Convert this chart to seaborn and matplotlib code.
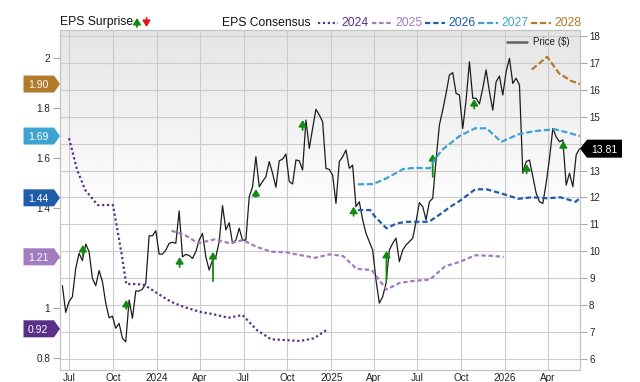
import numpy as np
import pandas as pd
import seaborn as sns
import matplotlib.pyplot as plt
import matplotlib.dates as mdates
import matplotlib.transforms as mtransforms
from matplotlib.lines import Line2D
from matplotlib.patches import Polygon
from matplotlib.ticker import MultipleLocator, FuncFormatter

# weekly closing price ($), first week 2023-06-17
price_start = "2023-06-17"
price = [
    8.73, 7.74, 8.14, 8.32, 9.37, 9.93, 9.66, 10.27, 9.99, 9.0,
    8.73, 9.29, 8.88, 8.08, 7.54, 7.6, 7.15, 7.33, 6.78, 6.65,
    8.2, 7.52, 8.53, 8.53, 8.6, 8.82, 10.58, 10.58, 10.77, 9.9,
    9.9, 10.05, 10.3, 10.34, 10.3, 11.5, 9.8,
    9.89, 9.85, 9.74, 9.99, 10.42, 10.67, 9.8, 9.31, 9.68, 9.8,
    10.36, 11.7, 10.8, 11.06, 10.3, 10.42, 10.86, 10.42, 10.42, 12.03,
    12.4, 13.51, 12.4, 12.59, 12.77, 13.33, 12.9, 12.38, 13.36, 13.42,
    13.61, 12.59, 12.5, 13.39, 13.36, 13.02, 14.87, 13.82, 14.56, 15.27,
    15.06, 14.81,
    13.08, 13.04, 12.83, 11.78, 13.33, 13.51, 13.76, 13.08, 13.2, 11.66,
    11.84, 11.17, 10.67, 10.36, 10.05, 8.94, 8.08, 8.32, 8.82, 10.05,
    10.3, 10.49, 9.62, 10.05, 10.24, 10.36, 10.49, 11.1, 11.81, 11.66,
    11.17, 11.84, 11.97, 13.39, 14.69, 15.24, 15.86, 16.54,
    16.63, 15.86, 15.8, 14.56, 15.61, 17.03, 15.68, 15.68, 15.47,
    16.05, 16.73, 15.92, 15.24, 16.29, 16.5, 15.8, 16.66, 17.16, 16.23,
    16.42, 16.17, 12.9, 13.33, 13.39, 12.77, 12.16, 11.84, 11.78, 12.53,
    13.45, 14.56, 14.25, 14.07, 14.13, 12.46, 12.9, 12.4, 13.58, 13.81,
]

# EPS consensus by fiscal year
eps24_dates = ["2023-07-01", "2023-07-18", "2023-08-04", "2023-08-30", "2023-10-01", "2023-10-08",
               "2023-10-19", "2023-10-29", "2023-11-19", "2023-12-07", "2023-12-28", "2024-01-31",
               "2024-02-26", "2024-03-31", "2024-04-30", "2024-05-30", "2024-06-29", "2024-07-29",
               "2024-08-28", "2024-09-27", "2024-10-27", "2024-11-26", "2024-12-26"]
eps24 = [1.68, 1.553, 1.473, 1.413, 1.413, 1.34, 1.22, 1.097, 1.097, 1.093, 1.066, 1.026,
         1.006, 0.986, 0.976, 0.962, 0.973, 0.913, 0.876, 0.873, 0.869, 0.88, 0.918]

eps25_dates = ["2024-02-01", "2024-02-29", "2024-03-28", "2024-05-02", "2024-06-02", "2024-06-30",
               "2024-07-28", "2024-08-29", "2024-09-29", "2024-10-27", "2024-11-28", "2024-12-29",
               "2025-01-26", "2025-02-23", "2025-03-27", "2025-04-27", "2025-05-25", "2025-06-25",
               "2025-07-27", "2025-08-28", "2025-09-28", "2025-10-30", "2025-12-01", "2025-12-29"]
eps25 = [1.31, 1.293, 1.26, 1.276, 1.26, 1.273, 1.246, 1.226, 1.224, 1.213, 1.202, 1.216,
         1.209, 1.158, 1.153, 1.075, 1.102, 1.11, 1.115, 1.168, 1.186, 1.212, 1.21, 1.206]

eps26_dates = ["2025-02-26", "2025-03-24", "2025-04-03", "2025-04-27", "2025-05-19", "2025-06-09",
               "2025-07-07", "2025-07-25", "2025-08-15", "2025-09-08", "2025-09-28", "2025-10-30",
               "2025-11-23", "2025-12-21", "2026-01-29", "2026-02-26", "2026-03-30", "2026-04-27",
               "2026-05-29", "2026-06-07"]
eps26 = [1.393, 1.393, 1.366, 1.32, 1.34, 1.346, 1.346, 1.346, 1.373, 1.406, 1.43, 1.476,
         1.476, 1.461, 1.438, 1.444, 1.44, 1.444, 1.426, 1.442]

eps27_dates = ["2025-02-26", "2025-03-30", "2025-04-27", "2025-06-01", "2025-06-25", "2025-07-27",
               "2025-08-06", "2025-08-21", "2025-09-08", "2025-09-28", "2025-10-30", "2025-11-23",
               "2025-12-24", "2026-01-29", "2026-03-04", "2026-04-15", "2026-05-10", "2026-06-07"]
eps27 = [1.496, 1.497, 1.52, 1.557, 1.562, 1.56, 1.593, 1.633, 1.66, 1.69, 1.72, 1.72,
         1.666, 1.696, 1.709, 1.716, 1.704, 1.689]

eps28_dates = ["2026-02-26", "2026-03-30", "2026-04-24", "2026-05-19", "2026-06-07"]
eps28 = [1.955, 2.006, 1.94, 1.91, 1.897]

# EPS surprise arrows (all beats), drawn on the price scale
surprise_dates = ["2023-07-30", "2023-10-29", "2024-02-18", "2024-04-28", "2024-07-27", "2024-11-02",
                  "2025-02-17", "2025-04-27", "2025-08-02", "2025-10-28", "2026-02-15", "2026-05-03"]
surprise_top = [10.24, 8.2, 9.79, 9.98, 12.31, 14.87, 11.66, 10.02, 13.61, 15.65, 13.24, 14.09]
surprise_base = [9.83, 7.87, 9.42, 8.9, 12.02, 14.5, 11.32, 8.94, 12.76, 15.3, 12.89, 13.8]

years = ["2024", "2025", "2026", "2027", "2028"]
year_colors = ["#5a2f8a", "#a37cbf", "#1f5ca9", "#3ea3d1", "#b27a2b"]
year_styles = [(0, (1, 1.2)), (0, (2, 1.2)), (0, (2.4, 1.3)), (0, (2.8, 1.2)), (0, (2.8, 1.2))]
eps_series = [(eps24_dates, eps24), (eps25_dates, eps25), (eps26_dates, eps26),
              (eps27_dates, eps27), (eps28_dates, eps28)]

GREEN = "#118a11"
RED = "#e5141a"
W, H = 640, 382
ARROW = "-|>,head_length=0.45,head_width=0.28"

sns.set_style("white")
plt.rcParams["font.family"] = ["Liberation Sans", "DejaVu Sans"]

fig = plt.figure(figsize=(6.4, 3.82), dpi=100)
rect = [60 / W, 12 / H, 520 / W, 340 / H]

# grey-to-white background
bg = fig.add_axes(rect, zorder=-1)
n = 340
shade = np.ones((n, 1))
fade = int(n * 0.55)
shade[:fade, 0] = np.linspace(0.895, 1.0, fade)
bg.imshow(shade, cmap="gray", vmin=0, vmax=1, aspect="auto", extent=[0, 1, 0, 1])
bg.axis("off")

ax = fig.add_axes(rect)
ax.patch.set_visible(False)
price_dates = pd.date_range(price_start, periods=len(price), freq="7D")
sns.lineplot(x=price_dates, y=price, ax=ax, color="#1c1c1c", linewidth=0.9, errorbar=None)

ax2 = ax.twinx()
for (dates, vals), c, ls in zip(eps_series, year_colors, year_styles):
    sns.lineplot(x=pd.to_datetime(dates), y=vals, ax=ax2, color=c, linewidth=1.6,
                 linestyle=ls, errorbar=None)

x_range = (pd.Timestamp("2023-06-12"), pd.Timestamp("2026-06-07"))
ax.set_xlim(*x_range)
ax.set_ylim(5.603, 18.21)
ax.set_xlabel("")
ax.set_ylabel("")
ax2.set_ylim(0.7532, 2.1132)
ax2.set_ylabel("")

# price axis on the right (twinx moved it left)
ax.yaxis.tick_right()
ax.yaxis.set_label_position("right")
ax.yaxis.set_major_locator(MultipleLocator(1))
ax.yaxis.set_major_formatter(FuncFormatter(lambda v, p: f"{v:.0f}"))
ax.xaxis.set_major_locator(mdates.MonthLocator(bymonth=[1, 4, 7, 10]))
ax.xaxis.set_major_formatter(FuncFormatter(
    lambda v, p: str(mdates.num2date(v).year) if mdates.num2date(v).month == 1
    else mdates.num2date(v).strftime("%b")))
ax.tick_params(axis="x", length=0, labelsize=7.2, pad=2.5, colors="#222222")
ax.tick_params(axis="y", right=True, left=False, labelright=True, labelleft=False, length=5,
               width=0.8, color="#a8a8a8", labelsize=7, pad=1.5, labelcolor="#222222")
ax.grid(True, color="#cbcbcb", linewidth=0.8)
for s in ax.spines.values():
    s.set_color("#c4c4c4")
    s.set_linewidth(0.9)

# EPS axis on the left
ax2.yaxis.tick_left()
ax2.yaxis.set_major_locator(MultipleLocator(0.2))
ax2.yaxis.set_major_formatter(FuncFormatter(lambda v, p: f"{v:g}"))
ax2.tick_params(axis="y", left=True, right=False, labelleft=True, labelright=False, length=5,
                width=0.8, color="#a8a8a8", labelsize=7.2, pad=2, labelcolor="#222222")
ax2.grid(False)
for s in ax2.spines.values():
    s.set_visible(False)

# surprise arrows
for d, t, b in zip(surprise_dates, surprise_top, surprise_base):
    xd = mdates.date2num(pd.Timestamp(d))
    ax.annotate("", xy=(xd, t), xytext=(xd, b),
                arrowprops=dict(arrowstyle=ARROW, color=GREEN, lw=1.3,
                                mutation_scale=8, shrinkA=0, shrinkB=0))

ident = mtransforms.IdentityTransform()


def flag(axis, xa, value, color, text, side):
    shift = mtransforms.ScaledTranslation(xa, value, axis.get_yaxis_transform())
    tr = mtransforms.Affine2D() + shift
    if side == "left":
        verts = [(0, 0), (-6, 8.5), (-36.5, 8.5), (-36.5, -8.5), (-6, -8.5)]
        tx = -22
    else:
        verts = [(0, 0), (7, 9), (42, 9), (42, -9), (7, -9)]
        tx = 24.5
    fig.add_artist(Polygon(verts, closed=True, facecolor=color, edgecolor="none",
                           transform=tr, zorder=5))
    fig.text(tx, 0, text, transform=tr, color="white", fontsize=7.5, ha="center",
             va="center_baseline", zorder=6)


for (dates, vals), c in zip(eps_series, year_colors):
    flag(ax2, 0, vals[-1], c, f"{vals[-1]:.2f}", "left")
flag(ax, 1, price[-1], "black", f"{price[-1]:.2f}", "right")

# top legend
ly = H - 22.5
fig.text(60, ly, "EPS Surprise", transform=ident, fontsize=8.7, va="center", color="#111111")
ax.annotate("", xy=(137, H - 18), xytext=(137, H - 27), xycoords=ident, textcoords=ident,
            annotation_clip=False,
            arrowprops=dict(arrowstyle=ARROW, color=GREEN, lw=1.3, mutation_scale=8,
                            shrinkA=0, shrinkB=0))
ax.annotate("", xy=(146.5, H - 27), xytext=(146.5, H - 18), xycoords=ident, textcoords=ident,
            annotation_clip=False,
            arrowprops=dict(arrowstyle=ARROW, color=RED, lw=1.3, mutation_scale=8,
                            shrinkA=0, shrinkB=0))
fig.text(221.5, ly, "EPS Consensus", transform=ident, fontsize=8.7, va="center", color="#111111")
leg_x = [318, 372, 425, 478, 531]
for x0, yr, c, ls in zip(leg_x, years, year_colors, year_styles):
    fig.add_artist(Line2D([x0, x0 + 20], [ly, ly], color=c, linewidth=1.6, linestyle=ls,
                          transform=ident))
    fig.text(x0 + 23, ly, yr, transform=ident, fontsize=8.7, va="center", color=c)

# price legend inside the plot
py = H - 41.7
fig.add_artist(Line2D([507, 527], [py, py], color="#606060", linewidth=1.8, transform=ident))
fig.text(533, py, "Price ($)", transform=ident, fontsize=7, va="center", color="#222222")

fig.savefig("out.png", dpi=100)
